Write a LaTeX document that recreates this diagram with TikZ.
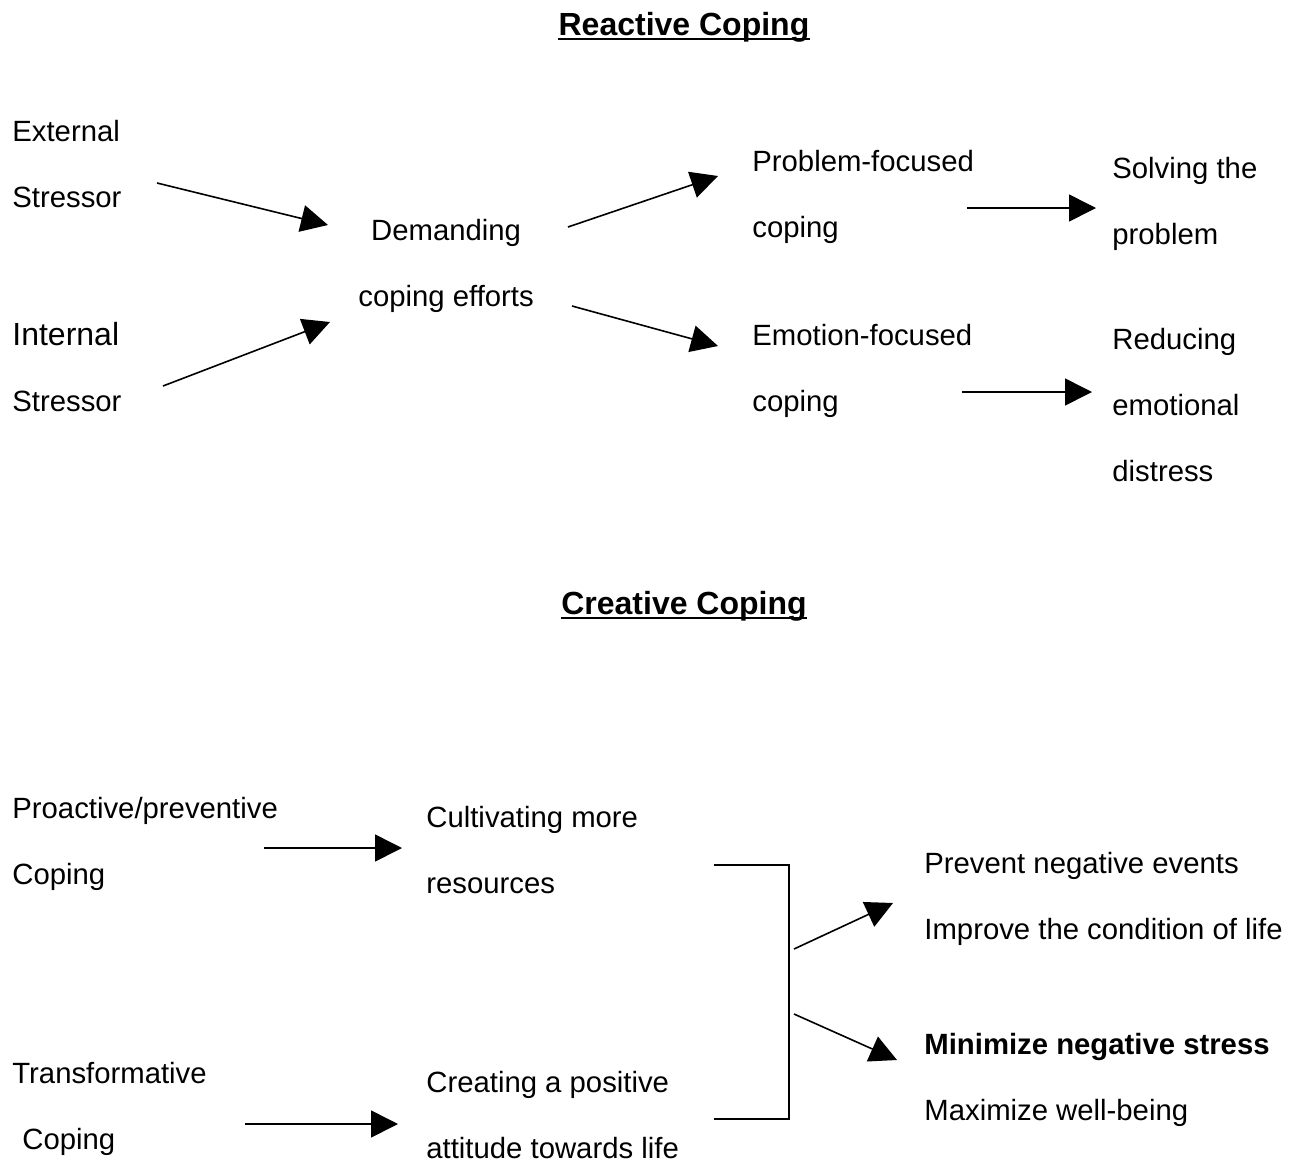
\documentclass[tikz,border=0pt]{standalone}
\usepackage{fontspec}
\setmainfont{Liberation Sans}
\usetikzlibrary{arrows.meta}

\tikzset{
  lbl/.style={anchor=base west, inner sep=0pt, align=left, font=\fontsize{14.65}{33}\selectfont},
  ttl/.style={anchor=base, inner sep=0pt, font=\fontsize{16}{18}\selectfont\bfseries},
  arr/.style={-{Triangle[length=13.5pt,width=13.5pt]}, line width=0.8pt},
}

\begin{document}
\begin{tikzpicture}[x=0.5pt,y=-0.5pt]
  \useasboundingbox (0,0) rectangle (1302,1162);

  %reactive coping
  \node[ttl] (rtitle) at (684,35) {Reactive Coping};
  \draw[line width=1pt] ([yshift=-2pt]rtitle.base west) -- ([yshift=-2pt]rtitle.base east);

  % anchor is the baseline of the last line
  \node[lbl] (ext) at (12,207) {External\\Stressor};
  \node[lbl] (int) at (12,411) {{\fontsize{16}{36}\selectfont Internal}\\Stressor};
  \node[lbl, align=center] (dem) at (358,306) {Demanding\\coping efforts};
  \node[lbl] (prob) at (752,237) {Problem-focused\\coping};
  \node[lbl] (emo) at (752,411) {Emotion-focused\\coping};
  \node[lbl] (solve) at (1112,244) {Solving the\\problem};
  \node[lbl] (reduce) at (1112,481) {Reducing\\emotional\\distress};

  \coordinate (e1) at (157,183);  \coordinate (d1) at (328,225);
  \coordinate (e2) at (163,386);  \coordinate (d2) at (330,322);
  \coordinate (d3) at (568,227);  \coordinate (p1) at (718,176);
  \coordinate (d4) at (572,306);  \coordinate (m1) at (718,346);
  \coordinate (p2) at (967,208);  \coordinate (s1) at (1096,208);
  \coordinate (m2) at (962,392);  \coordinate (r1) at (1092,392);

  \draw[arr] (e1) -- (d1);
  \draw[arr] (e2) -- (d2);
  \draw[arr] (d3) -- (p1);
  \draw[arr] (d4) -- (m1);
  \draw[arr] (p2) -- (s1);
  \draw[arr] (m2) -- (r1);

  %creative coping
  \node[ttl] (ctitle) at (684,614) {Creative Coping};
  \draw[line width=1pt] ([yshift=-2pt]ctitle.base west) -- ([yshift=-2pt]ctitle.base east);

  \node[lbl] (proact) at (12,884) {Proactive/preventive\\Coping};
  \node[lbl] (trans) at (12,1149) {Transformative\\\hspace{5pt}Coping};
  \node[lbl] (cult) at (426,893) {Cultivating more\\resources};
  \node[lbl] (creat) at (426,1158) {Creating a positive\\attitude towards life};
  \node[lbl] (prev) at (924,939) {Prevent negative events\\Improve the condition of life};
  \node[lbl] (mini) at (924,1120) {\textbf{Minimize negative stress}\\Maximize well-being};

  \coordinate (c1) at (264,848);  \coordinate (c2) at (402,848);
  \coordinate (t1) at (245,1124); \coordinate (t2) at (398,1124);
  \draw[arr] (c1) -- (c2);
  \draw[arr] (t1) -- (t2);

  %bracket
  \coordinate (brtop) at (714,865);
  \coordinate (brbot) at (714,1119);
  \draw[line width=0.9pt] (brtop) -- ++(75,0) |- (brbot);

  \coordinate (b1) at (794,949);  \coordinate (g1) at (893,903);
  \coordinate (b2) at (794,1014); \coordinate (g2) at (897,1060);
  \draw[arr] (b1) -- (g1);
  \draw[arr] (b2) -- (g2);
\end{tikzpicture}
\end{document}
